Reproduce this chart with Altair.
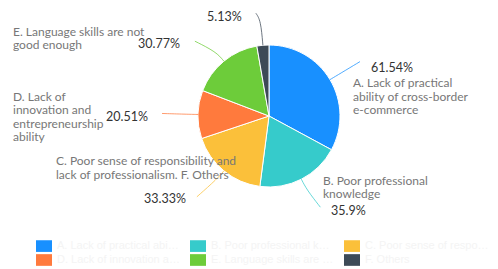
import math
import altair as alt
import pandas as pd

# ---- data ----
categories = [
    "A. Lack of practical ability of cross-border e-commerce",
    "B. Poor professional knowledge",
    "C. Poor sense of responsibility and lack of professionalism",
    "D. Lack of innovation and entrepreneurship ability",
    "E. Language skills are not good enough",
    "F. Others",
]
values = [61.54, 35.9, 33.33, 20.51, 30.77, 5.13]
pct_labels = ["61.54%", "35.9%", "33.33%", "20.51%", "30.77%", "5.13%"]
name_labels = [
    "A. Lack of practical\nability of cross-border\ne-commerce",
    "B. Poor professional\nknowledge",
    "C. Poor sense of responsibility and\nlack of professionalism. F. Others",
    "D. Lack of\ninnovation and\nentrepreneurship\nability",
    "E. Language skills are not\ngood enough",
    "",
]
colors = ["#1890ff", "#36cbcb", "#fbc03a", "#ff7a3d", "#6dcc3a", "#3d4a57"]

# ---- layout (pixels, relative to view) ----
W, H = 482, 261
CX, CY, R = 261, 108, 71
leader_ext = [12, 12, 10, 12, 12, 25]
leader_end = [(30, -18), (19, 28), (-27, 26), (-36, -1), (-29, -20), (-7, -32)]
pct_off = [(41, -11.6), (29.6, 31.8), (-79.9, 28.2), (-92, 2.5), (-85.9, -17.2), (-55.9, -28.3)]
name_off = [(23, 5.4), (21.6, 3.8), (-167.9, -7.8), (-185, -15.5), (-210.9, -27.2), (0, 0)]

total = sum(values)
cum = 0.0
lead_rows, pct_rows, name_rows = [], [], []
for i, v in enumerate(values):
    mid = (cum + v / 2) / total * 2 * math.pi
    cum += v
    sx, sy = math.sin(mid), -math.cos(mid)
    ax, ay = CX + R * sx, CY + R * sy
    cx_, cy_ = CX + (R + leader_ext[i]) * sx, CY + (R + leader_ext[i]) * sy
    ex, ey = ax + leader_end[i][0], ay + leader_end[i][1]
    for k, (px, py) in enumerate([(ax, ay), (cx_, cy_), (ex, ey)]):
        lead_rows.append({"cat": categories[i], "k": k, "x": px, "y": py})
    pct_rows.append({"x": ax + pct_off[i][0], "y": ay + pct_off[i][1], "t": pct_labels[i]})
    if name_labels[i]:
        name_rows.append({"x": ax + name_off[i][0], "y": ay + name_off[i][1] - 7, "t": name_labels[i]})

pie_df = pd.DataFrame({"cat": categories, "value": values, "idx": list(range(len(values)))})
lead_df = pd.DataFrame(lead_rows)
pct_df = pd.DataFrame(pct_rows)
name_df = pd.DataFrame(name_rows)

xs = alt.Scale(domain=[0, W], range=[0, W], nice=False, zero=False)
ys = alt.Scale(domain=[0, H], range=[0, H], nice=False, zero=False)
cscale = alt.Scale(domain=categories, range=colors)

pie = alt.Chart(pie_df).mark_arc(outerRadius=R, stroke="#ffffff", strokeWidth=1).encode(
    theta=alt.Theta("value:Q", stack=True),
    order=alt.Order("idx:Q"),
    color=alt.Color(
        "cat:N",
        scale=cscale,
        sort=categories,
        legend=alt.Legend(
            title=None,
            orient="none",
            legendX=28,
            legendY=230,
            columns=3,
            direction="horizontal",
            symbolType="M-1,-0.73H1V0.73H-1Z",
            symbolSize=256,
            symbolStrokeWidth=0,
            labelLimit=124,
            labelColor="#f4f4f4",
            labelFontSize=11,
            labelOffset=5,
            columnPadding=10,
            rowPadding=0,
            padding=0,
        ),
    ),
    x=alt.value(CX),
    y=alt.value(CY),
)

leaders = alt.Chart(lead_df).mark_line(strokeWidth=1, interpolate="basis", opacity=0.75).encode(
    x=alt.X("x:Q", scale=xs, axis=None),
    y=alt.Y("y:Q", scale=ys, axis=None),
    detail="cat:N",
    order="k:Q",
    stroke=alt.Stroke("cat:N", scale=alt.Scale(domain=categories, range=colors), legend=None),
)

pct = alt.Chart(pct_df).mark_text(
    align="left", baseline="middle", font="Lato", fontSize=12.5, color="#333333"
).encode(x=alt.X("x:Q", scale=xs, axis=None), y=alt.Y("y:Q", scale=ys, axis=None), text="t:N")

names = alt.Chart(name_df).mark_text(
    align="left", baseline="top", font="Lato", fontSize=12, color="#777777",
    lineBreak="\n", lineHeight=13.5,
).encode(x=alt.X("x:Q", scale=xs, axis=None), y=alt.Y("y:Q", scale=ys, axis=None), text="t:N")

chart = alt.layer(pie, leaders, names, pct).resolve_scale(color="independent").properties(
    width=W, height=H, padding=0, autosize=alt.AutoSizeParams(type="none")
).configure_view(stroke=None)

chart.save("out.html", embed_options={"renderer": "svg", "actions": False})
